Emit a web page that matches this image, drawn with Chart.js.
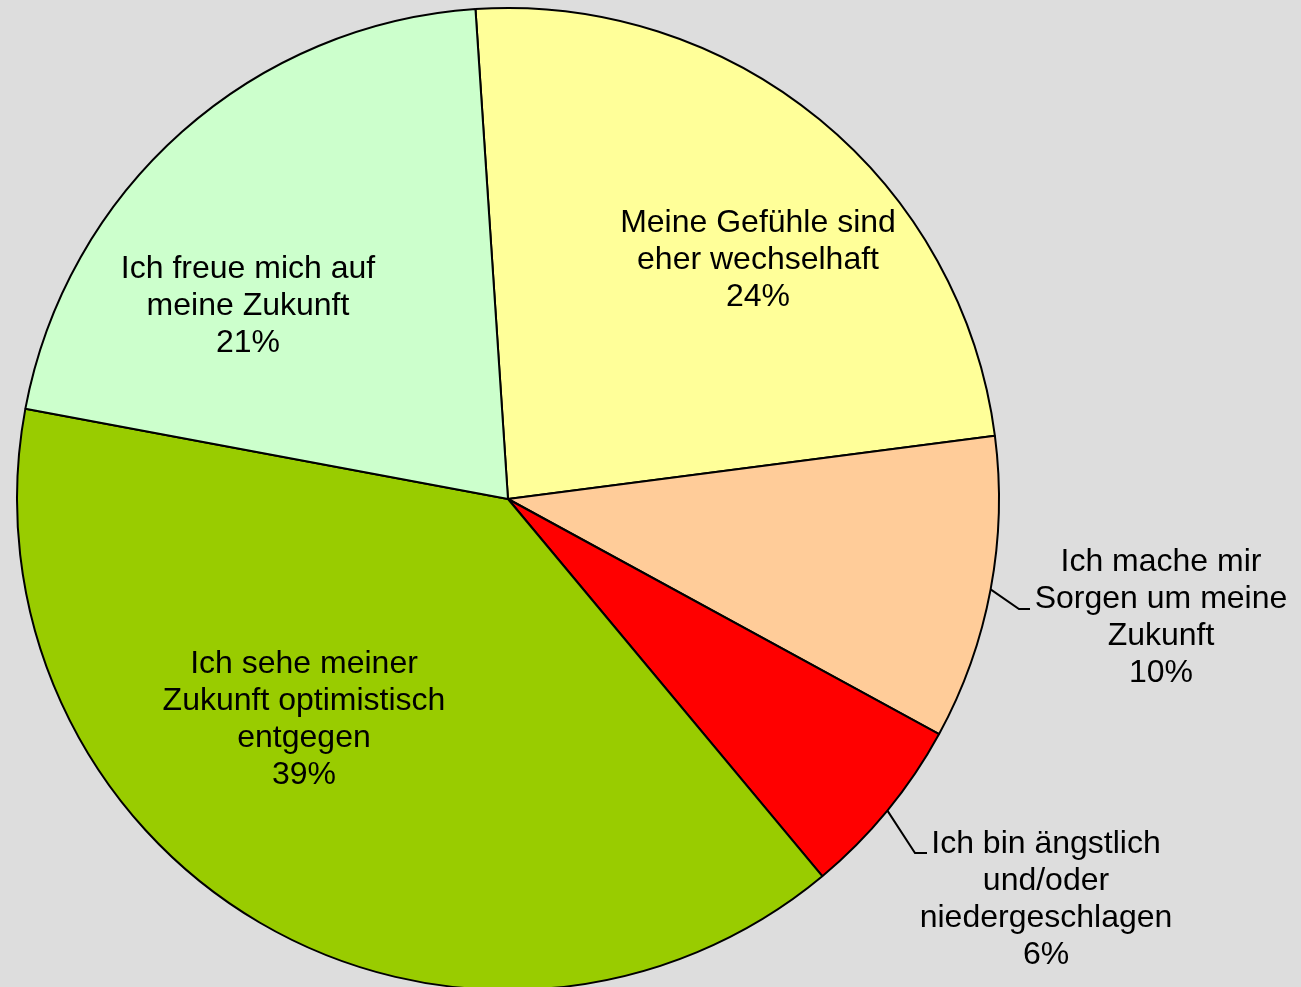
<!DOCTYPE html>
<html>
<head>
<meta charset="utf-8">
<script src="https://cdn.jsdelivr.net/npm/chart.js@4/dist/chart.umd.min.js"></script>
<style>
  html, body { margin: 0; padding: 0; background: #DDDDDD; overflow: hidden; }
  #wrap { width: 1301px; height: 995px; }
</style>
</head>
<body>
<div id="wrap"><canvas id="pieChart" width="1301" height="995"></canvas></div>
<script>
// Antworten (mehrzeilige Beschriftungen) und Anteile in Prozent
const categories = [
    ['Meine Gefühle sind', 'eher wechselhaft'],
    ['Ich mache mir', 'Sorgen um meine', 'Zukunft'],
    ['Ich bin ängstlich', 'und/oder', 'niedergeschlagen'],
    ['Ich sehe meiner', 'Zukunft optimistisch', 'entgegen'],
    ['Ich freue mich auf', 'meine Zukunft']
];
const shares = [24, 10, 6, 39, 21];
const sliceColors = ['#FFFF99', '#FFCC99', '#FF0000', '#99CC00', '#CCFFCC'];

// Position der Beschriftungen relativ zum Kreismittelpunkt
// (x = Mitte des Textblocks, y = erste Zeile); Führungslinien mit Knick
const labelLayout = [
    { dx: 250, dy: -276 },
    { dx: 653, dy: 63, elbow: [511, 110], end: 522 },
    { dx: 538, dy: 345, elbow: [407, 354], end: 419 },
    { dx: -204, dy: 165 },
    { dx: -260, dy: -230 }
];

const sliceLabels = {
    id: 'sliceLabels',
    afterDatasetsDraw(chart) {
        const ctx = chart.ctx;
        const arcs = chart.getDatasetMeta(0).data;
        const lineHeight = 37;
        ctx.save();
        ctx.font = '32px "Liberation Sans", Arial, sans-serif';
        ctx.fillStyle = '#000';
        ctx.textAlign = 'center';
        ctx.textBaseline = 'middle';
        arcs.forEach((arc, i) => {
            const p = arc.getProps(['x', 'y', 'startAngle', 'endAngle', 'outerRadius'], true);
            const lay = labelLayout[i];
            if (lay.elbow) {
                const mid = (p.startAngle + p.endAngle) / 2;
                ctx.beginPath();
                ctx.lineWidth = 2;
                ctx.strokeStyle = '#000';
                ctx.moveTo(p.x + Math.cos(mid) * p.outerRadius, p.y + Math.sin(mid) * p.outerRadius);
                ctx.lineTo(p.x + lay.elbow[0], p.y + lay.elbow[1]);
                ctx.lineTo(p.x + lay.end, p.y + lay.elbow[1]);
                ctx.stroke();
            }
            const lines = categories[i].concat([shares[i] + '%']);
            lines.forEach((txt, k) => {
                ctx.fillText(txt, p.x + lay.dx, p.y + lay.dy + k * lineHeight);
            });
        });
        ctx.restore();
    }
};

new Chart(document.getElementById('pieChart').getContext('2d'), {
    type: 'pie',
    data: {
        labels: categories.map(l => l.join(' ')),
        datasets: [{
            data: shares,
            backgroundColor: sliceColors,
            borderColor: '#000',
            borderWidth: 2
        }]
    },
    options: {
        responsive: false,
        animation: false,
        rotation: -3.8,
        layout: {
            padding: { left: 16, top: 7, right: 301, bottom: 4 }
        },
        plugins: {
            legend: { display: false },
            tooltip: { enabled: false }
        }
    },
    plugins: [sliceLabels]
});
</script>
</body>
</html>
